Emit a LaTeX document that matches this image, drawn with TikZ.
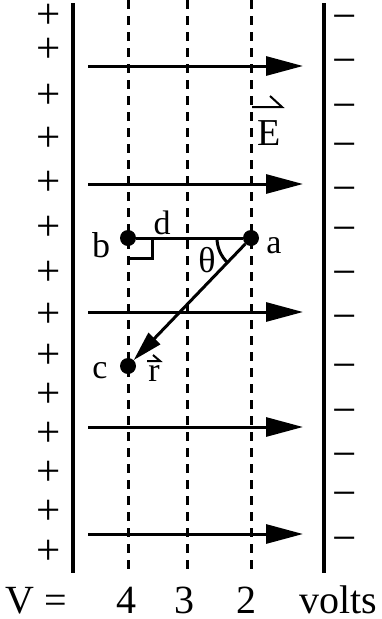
\documentclass[tikz,border=0pt]{standalone}
\usepackage{fontspec}
\setmainfont{Liberation Serif}
\usetikzlibrary{arrows.meta}
\newcommand{\fs}[1]{\fontsize{#1}{#1}\selectfont}
\begin{document}
\begin{tikzpicture}[x=1pt,y=1pt,
  plate/.style={line width=4pt},
  equip/.style={line width=3pt, dash pattern=on 9pt off 7pt},
  field/.style={line width=3pt,-{Triangle[length=37pt,width=19pt]}},
  dot/.style={circle,fill=black,inner sep=0pt,minimum size=16pt},
  sign/.style={inner sep=0pt,anchor=base,font=\fs{43}},
  lbl/.style={inner sep=0pt,anchor=base},
  vec/.style={line width=2pt}]
\useasboundingbox (0,0) rectangle (382,-619);
% plates
\draw[plate] (73,-3) -- (73,-573);
\draw[plate] (324,-3) -- (324,-573);
% equipotential lines
\foreach \x in {128,187,251} \draw[equip] (\x,0) -- (\x,-570);
% plus signs
\foreach \y [count=\i] in {16,50,96,139,183,228,273,315,356,395,434,473,512,552}
  \node[sign] (p\i) at (49,-\y-12.5) {+};
% minus signs
\foreach \y [count=\i] in {17,61,106,145,189,229,273,317,366,411,455,494,539}
  \node[sign] (m\i) at (345,-\y-13) {−};
% field arrows
\foreach \y [count=\i] in {66,184,312,427,534} {
  \coordinate (fs\i) at (88,-\y);
  \coordinate (fe\i) at (303,-\y);
  \draw[field] (fs\i) -- (fe\i);
}
% points
\node[dot] (b) at (128,-238) {};
\node[dot] (a) at (251,-238) {};
\node[dot] (c) at (128,-366) {};
\draw[line width=3pt] (b) -- (a);
\draw[line width=3pt] (128,-258) -- (152,-258) -- (152,-238);
\draw[line width=3pt,-{Triangle[length=30pt,width=16pt]}] (a) -- (c);
\draw[line width=3pt] (217,-238) arc[start angle=180, end angle=226.4, radius=34];
% labels
\node[lbl,font=\fs{36}] (lb) at (101,-257) {b};
\node[lbl,font=\fs{34}] (ld) at (162,-234) {d};
\node[lbl,font=\fs{34}] (la) at (274,-253) {a};
\node[inner sep=0pt,font=\fs{36}] (lt) at (207,-260) {θ};
\node[lbl,font=\fs{34}] (lc) at (100,-378) {c};
\node[lbl,font=\fs{34}] (lr) at (154,-381) {r};
\node[lbl,font=\fs{38}] (lE) at (269,-145) {E};
\draw[vec] (252,-107) -- (282,-107) -- (270,-96);
\draw[vec] (147,-361) -- (160,-361) -- (153,-355);
% bottom
\node[lbl,font=\fs{40}] (V) at (36,-613) {V =};
\node[lbl,font=\fs{40}] (v4) at (126,-613) {4};
\node[lbl,font=\fs{40}] (v3) at (184,-613) {3};
\node[lbl,font=\fs{40}] (v2) at (246,-613) {2};
\node[lbl,font=\fs{40}] (vv) at (338,-613) {volts};
\end{tikzpicture}
\end{document}
